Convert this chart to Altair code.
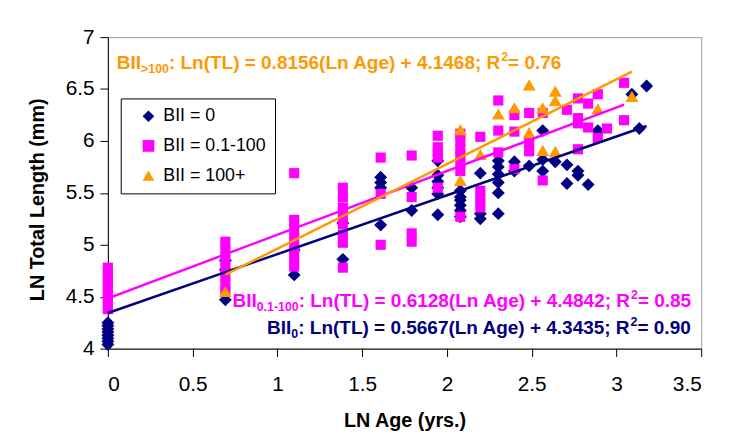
import altair as alt
import pandas as pd

# ---------------- data ----------------
series_names = ["BII = 0", "BII = 0.1-100", "BII = 100+"]
series_colors = ["#000080", "#FF00FF", "#FF9900"]
series_shapes = ["diamond", "square", "triangle-up"]
series_sizes = [170, 105, 170]

bii0_x = [0, 0, 0, 0, 0, 0, 0, 0,
          0.693, 0.693, 0.693, 1.099, 1.099, 1.386, 1.386,
          1.609, 1.609, 1.609, 1.609, 1.792, 1.792,
          1.946, 1.946, 1.946, 1.946, 1.946, 1.946,
          2.079, 2.079, 2.079, 2.079, 2.079, 2.079,
          2.197, 2.197, 2.197,
          2.303, 2.303, 2.303, 2.303, 2.303, 2.303,
          2.398, 2.398, 2.485, 2.565, 2.565, 2.565, 2.639,
          2.708, 2.708, 2.773, 2.773, 2.833, 2.890, 3.091, 3.135, 3.178]
bii0_y = [4.04, 4.07, 4.10, 4.13, 4.16, 4.19, 4.22, 4.25,
          4.47, 4.76, 4.85, 4.71, 4.95, 4.86, 5.21,
          5.19, 5.55, 5.60, 5.65, 5.33, 5.55,
          5.29, 5.49, 5.55, 5.61, 5.67, 5.81,
          5.27, 5.33, 5.38, 5.43, 5.46, 5.52,
          5.25, 5.30, 5.69,
          5.30, 5.50, 5.60, 5.68, 5.75, 5.81,
          5.71, 5.80, 5.76, 5.71, 5.82, 6.10, 5.80,
          5.59, 5.77, 5.67, 5.71, 5.58, 6.10, 6.45, 6.12, 6.53]

bii1_x = [0, 0, 0, 0, 0, 0, 0, 0, 0,
          0.693, 0.693, 0.693, 0.693, 0.693, 0.693, 0.693,
          1.099, 1.099, 1.099, 1.099, 1.099, 1.099, 1.099,
          1.386, 1.386, 1.386, 1.386, 1.386, 1.386, 1.386, 1.386,
          1.609, 1.609, 1.609, 1.792, 1.792, 1.792, 1.792,
          1.946, 1.946, 1.946, 1.946, 1.946,
          2.079, 2.079, 2.079, 2.079, 2.079, 2.079, 2.079,
          2.197, 2.197, 2.197, 2.197,
          2.303, 2.303, 2.303, 2.398, 2.398, 2.398,
          2.485, 2.485, 2.485, 2.565, 2.565, 2.708,
          2.773, 2.773, 2.773, 2.773, 2.833, 2.833,
          2.890, 2.890, 2.944, 3.045, 3.045]
bii1_y = [4.38, 4.43, 4.48, 4.53, 4.58, 4.63, 4.68, 4.73, 4.78,
          4.55, 4.62, 4.70, 4.78, 4.86, 4.95, 5.03,
          4.79, 4.88, 4.97, 5.06, 5.15, 5.24, 5.69,
          4.78, 5.02, 5.10, 5.20, 5.29, 5.36, 5.46, 5.55,
          5.00, 5.49, 5.84, 5.03, 5.11, 5.46, 5.86,
          5.55, 5.84, 5.89, 5.94, 6.05,
          5.27, 5.71, 5.78, 5.85, 5.92, 6.00, 6.07,
          5.36, 5.44, 5.52, 6.04,
          5.89, 6.10, 6.39, 5.73, 6.09, 6.25,
          5.90, 5.98, 6.27, 5.62, 6.27, 6.30,
          5.92, 6.17, 6.22, 6.41, 6.13, 6.36,
          6.03, 6.45, 6.12, 6.20, 6.56]

bii2_x = [0.693, 2.079, 2.079, 2.197, 2.303, 2.398, 2.485, 2.485,
          2.565, 2.565, 2.639, 2.639, 2.639, 2.890, 3.091]
bii2_y = [4.55, 5.62, 6.11, 5.87, 6.26, 6.32, 6.08, 6.54,
          5.91, 6.32, 5.90, 6.39, 6.48, 6.31, 6.43]

# trend lines: end points (x, y) of each fitted line
trend_x0 = [0.0, 0.0, 0.693]
trend_x1 = [3.178, 3.045, 3.091]
trend_y0 = [4.3435, 4.4842, 4.7121]
trend_y1 = [6.1445, 6.3502, 6.6678]

x_ticks = [0, 0.5, 1, 1.5, 2, 2.5, 3, 3.5]
y_ticks = [4, 4.5, 5, 5.5, 6, 6.5, 7]

# equation texts, split into (text, role) pieces: role m=main, b=subscript, p=superscript
eq_pieces = [
    [("BII", "m"), (">100", "b"), (": Ln(TL) = 0.8156(Ln Age) + 4.1468; R", "m"), ("2", "p"), (" = 0.76", "m")],
    [("BII", "m"), ("0.1-100", "b"), (": Ln(TL) = 0.6128(Ln Age) + 4.4842; R", "m"), ("2", "p"), (" = 0.85", "m")],
    [("BII", "m"), ("0", "b"), (": Ln(TL) = 0.5667(Ln Age) + 4.3435; R", "m"), ("2", "p"), (" = 0.90", "m")],
]
eq_colors = ["#FF9900", "#FF00FF", "#000080"]
eq_start = [(9, 32), (126, 273), (161, 300)]  # pixel start / baseline inside plot

# ---------------- build tables ----------------
rows = []
for name, sz, xs, ys in zip(series_names, series_sizes, [bii0_x, bii1_x, bii2_x], [bii0_y, bii1_y, bii2_y]):
    for a, b in zip(xs, ys):
        rows.append({"age": a, "tl": b, "series": name, "sz": sz})
pts = pd.DataFrame(rows)

lines = []
for i, name in enumerate(series_names):
    lines.append({"age": trend_x0[i], "tl": trend_y0[i], "series": name, "col": series_colors[i]})
    lines.append({"age": trend_x1[i], "tl": trend_y1[i], "series": name, "col": series_colors[i]})
lines = pd.DataFrame(lines)

# Arial Bold advance widths (per 1000 em)
AW = {"B": 722, "I": 278, ":": 333, " ": 278, "L": 611, "n": 611, "(": 333, "T": 611,
      ")": 333, "=": 584, ".": 278, "A": 722, "g": 611, "e": 556, "+": 584, ";": 333,
      "R": 722, ">": 584, "-": 333}
for d in "0123456789":
    AW[d] = 556

MAIN, SMALL = 19.2, 12.5
txt_rows = []
for pieces, col, (x0, y0) in zip(eq_pieces, eq_colors, eq_start):
    cx = x0
    for t, role in pieces:
        fs = MAIN if role == "m" else SMALL
        dy = 0 if role == "m" else (4 if role == "b" else -8)
        txt_rows.append({"t": t, "px": cx, "py": y0 + dy, "fs": fs, "col": col})
        cx += sum(AW[c] for c in t) / 1000 * fs
txt = pd.DataFrame(txt_rows)

FONT = "Liberation Sans"

xscale = alt.Scale(domain=[0, 3.5], nice=False, zero=False)
yscale = alt.Scale(domain=[4, 7], nice=False, zero=False)

legend = alt.Legend(
    title=None, orient="none", legendX=13, legendY=62,
    strokeColor="black", fillColor="white", padding=9,
    labelFont=FONT, labelFontSize=18, labelColor="black",
    symbolSize=140, symbolOffset=10, labelOffset=6, rowPadding=12,
    symbolStrokeWidth=0,
)

points = alt.Chart(pts).mark_point(filled=True, opacity=1).encode(
    x=alt.X("age:Q", scale=xscale,
            axis=alt.Axis(values=x_ticks, format="~g", title="LN Age (yrs.)", labelFontSize=21,
                          labelPadding=17, tickSize=8, titleX=300, titleY=73,
                          titleBaseline="middle", titleFontSize=20, grid=False)),
    y=alt.Y("tl:Q", scale=yscale,
            axis=alt.Axis(values=y_ticks, format="~g", title="LN Total Length (mm)", labelFontSize=21,
                          labelPadding=6, tickSize=8, titleX=-71, titleY=164,
                          titleAlign="center", titleBaseline="middle", titleAngle=-90,
                          titleFontSize=20, grid=False)),
    color=alt.Color("series:N", scale=alt.Scale(domain=series_names, range=series_colors), legend=legend),
    shape=alt.Shape("series:N", scale=alt.Scale(domain=series_names, range=series_shapes), legend=legend),
    size=alt.Size("sz:Q", scale=None),
)

trend = alt.Chart(lines).mark_line(strokeWidth=2.5).encode(
    x=alt.X("age:Q", scale=xscale),
    y=alt.Y("tl:Q", scale=yscale),
    detail="series:N",
    color=alt.Color("col:N", scale=None),
)

eqs = alt.Chart(txt).mark_text(align="left", baseline="alphabetic", font=FONT, fontWeight="bold").encode(
    x=alt.X("px:Q", scale=None),
    y=alt.Y("py:Q", scale=None),
    text="t:N",
    size=alt.Size("fs:Q", scale=None),
    color=alt.Color("col:N", scale=None),
)

chart = alt.layer(points, trend, eqs).properties(
    width=600, height=315,
    autosize=alt.AutoSizeParams(type="none"),
    padding={"left": 101, "top": 27, "right": 20, "bottom": 96},
    background="white",
).configure_view(
    stroke="#9a9a9a", strokeWidth=1
).configure_axis(
    labelFont=FONT, titleFont=FONT, labelColor="black", titleColor="black",
    domainColor="black", tickColor="black", titleFontWeight="bold",
)

chart.save("out.html", embed_options={"renderer": "svg", "actions": False})
